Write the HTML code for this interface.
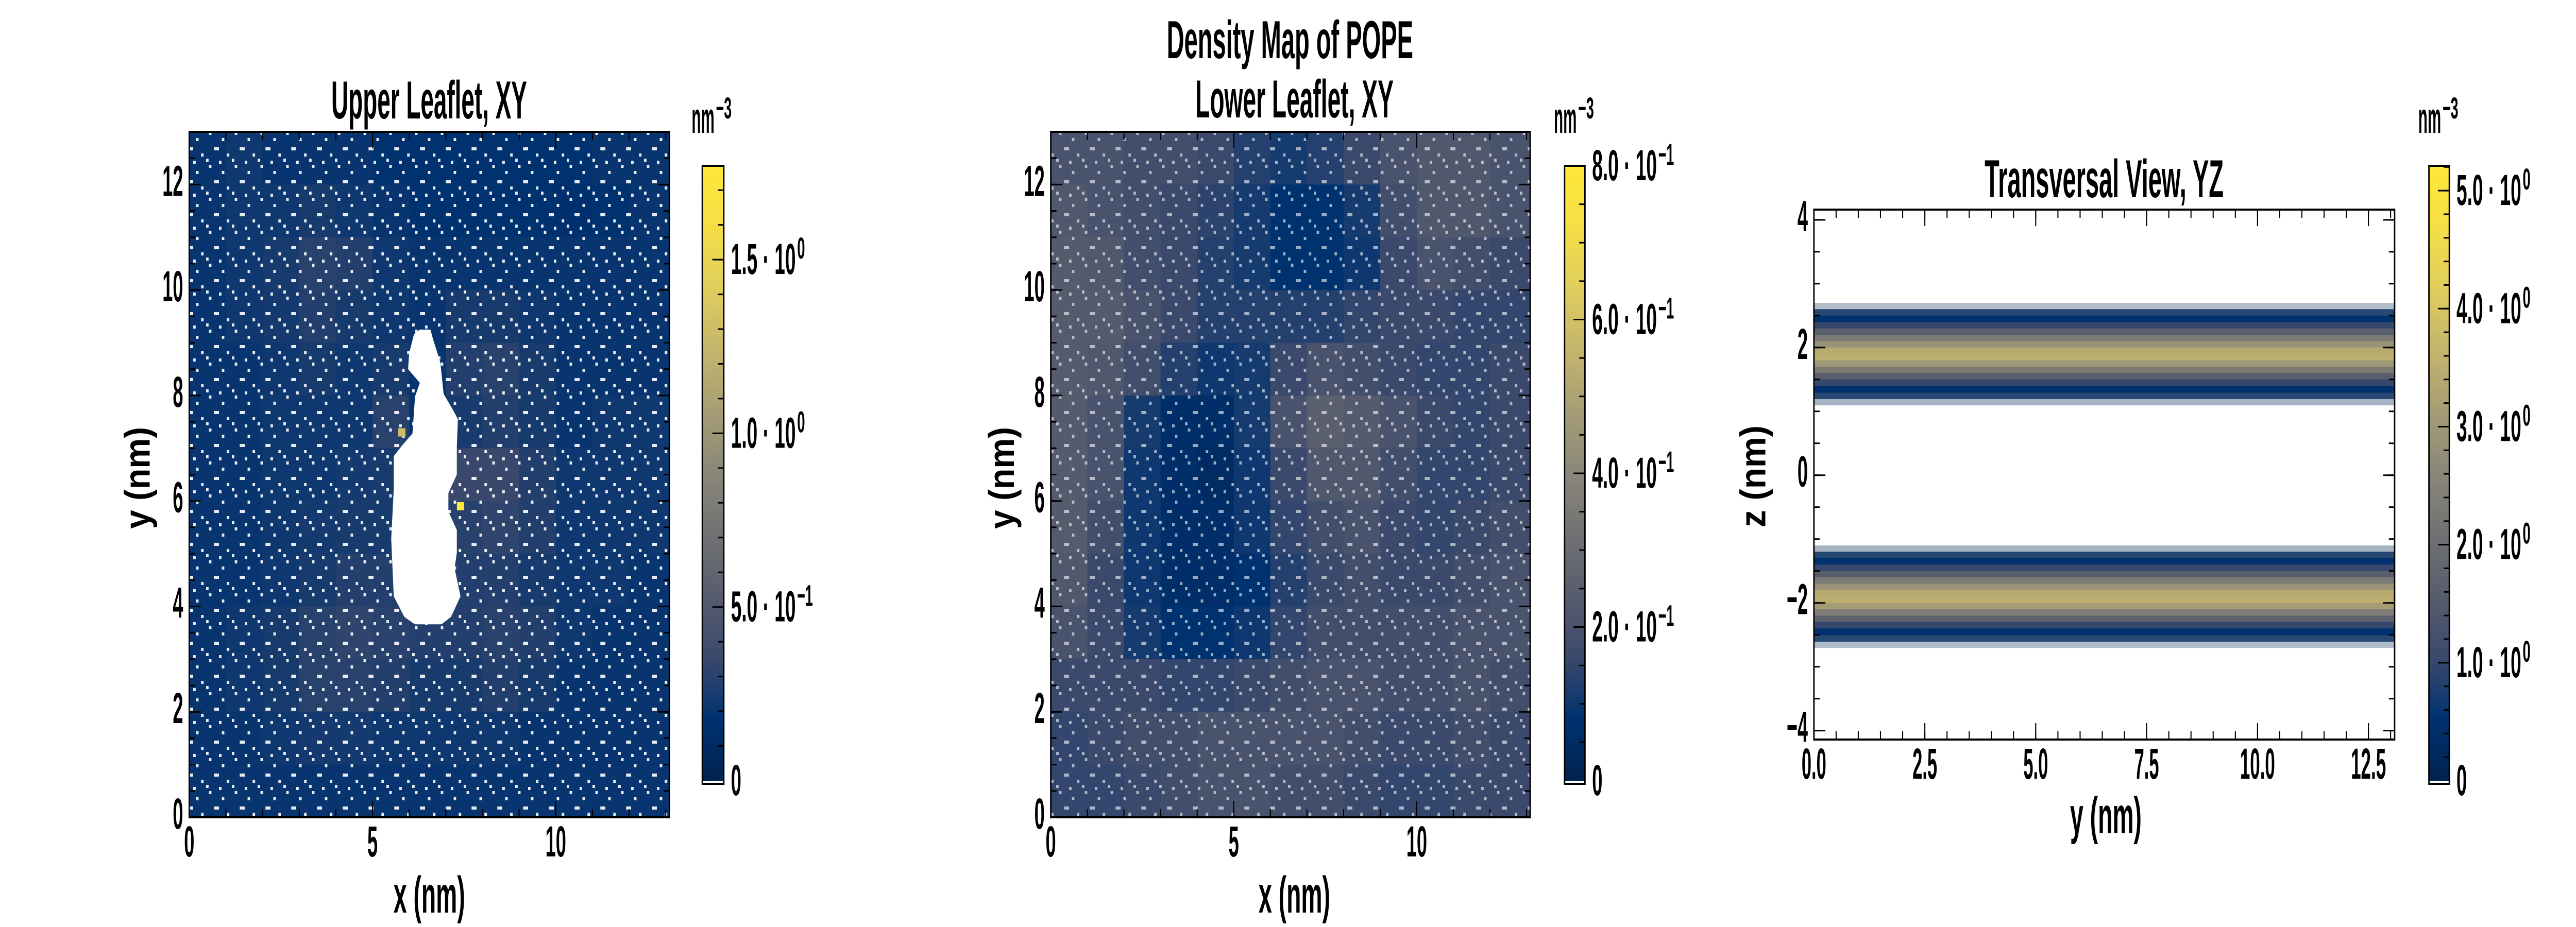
<!DOCTYPE html>
<html><head><meta charset="utf-8"><title>Density Map of POPE</title>
<style>
html,body{margin:0;padding:0;background:#fff;width:100%;height:100%;overflow:hidden;}
svg{display:block;width:100vw;height:100vh;}
text{font-family:"Liberation Sans Narrow","Liberation Sans",sans-serif;font-weight:bold;fill:#000;}
</style></head>
<body>
<svg id="fig" xmlns="http://www.w3.org/2000/svg" viewBox="0 0 7200 1800" preserveAspectRatio="none">
<defs>
<clipPath id="clip1"><rect x="529" y="256" width="1342" height="1331"/></clipPath>
<clipPath id="clip2"><rect x="2937" y="256" width="1340" height="1331"/></clipPath>
<clipPath id="clip3"><rect x="5070" y="407" width="1623" height="1029"/></clipPath>
<pattern id="speckle" x="0" y="0" width="72" height="64" patternUnits="userSpaceOnUse">
<rect x="8" y="0" width="7" height="6" fill="#fff"/>
<rect x="44" y="12" width="7" height="6" fill="#fff"/>
<rect x="22" y="30" width="14" height="6" fill="#fff"/>
<rect x="58" y="42" width="7" height="6" fill="#fff"/>
<rect x="0" y="52" width="7" height="6" fill="#fff"/>
<rect x="36" y="56" width="7" height="6" fill="#fff"/>
</pattern>
</defs>
</svg>
<script>
// ---------- data ----------
const upperGrid = [
[.2,.22,.2,.2,.2,.18,.18,.18,.18,.18,.18,.2,.2],
[.2,.22,.22,.25,.22,.2,.18,.18,.18,.18,.16,.18,.2],
[.2,.22,.25,.3,.28,.22,.2,.2,.2,.2,.2,.2,.2],
[.2,.22,.24,.28,.25,.22,.2,.25,.25,.22,.2,.2,.2],
[.2,.2,.22,.25,.22,.25,.2,.28,.3,.25,.2,.2,.2],
[.2,.2,.22,.22,.22,.3,.2,.25,.28,.25,.2,.22,.22],
[.2,.2,.22,.22,.24,.25,.2,.35,.35,.28,.22,.22,.22],
[.2,.2,.22,.24,.25,.25,.2,.3,.32,.28,.22,.22,.22],
[.2,.2,.22,.25,.28,.28,.25,.28,.28,.25,.22,.22,.2],
[.2,.22,.25,.3,.32,.3,.28,.28,.3,.28,.22,.2,.2],
[.2,.22,.25,.3,.3,.28,.25,.25,.28,.25,.2,.2,.2],
[.2,.2,.22,.24,.24,.22,.22,.22,.22,.2,.2,.2,.2],
[.2,.2,.2,.2,.2,.2,.2,.2,.2,.2,.2,.2,.2]];
const upperHoleX = [6.29,6.58,6.65,6.85,6.94,7.2,7.33,7.3,7.3,7.07,7.07,7.3,7.3,7.24,7.4,7.14,6.88,6.16,5.87,5.58,5.51,5.58,5.58,5.77,6.09,6.13,6.16,6.29,5.97,6.0,6.13];
const upperHoleY = [9.25,9.25,9.07,8.63,8.03,7.72,7.55,7.02,6.5,6.15,5.8,5.45,5.02,4.72,4.19,3.8,3.66,3.66,3.8,4.19,5.28,6.24,6.85,7.02,7.28,7.68,7.98,8.24,8.5,8.8,9.16];
const upperSpotX = [5.8,7.4];
const upperSpotY = [7.3,5.9];
const upperSpotV = [1.3,1.77];

const lowerGrid = [
[.2,.2,.18,.18,.16,.13,.11,.13,.16,.2,.22,.22,.2],
[.22,.2,.18,.16,.14,.11,.08,.08,.11,.18,.22,.22,.2],
[.23,.22,.18,.16,.13,.11,.08,.08,.1,.16,.2,.18,.16],
[.23,.23,.2,.16,.13,.13,.13,.13,.15,.16,.16,.15,.15],
[.23,.22,.18,.13,.1,.11,.16,.2,.18,.16,.15,.15,.16],
[.23,.2,.11,.06,.06,.11,.2,.25,.23,.2,.16,.15,.16],
[.23,.2,.1,.06,.05,.1,.16,.22,.22,.18,.15,.15,.16],
[.23,.18,.1,.06,.06,.1,.15,.18,.2,.16,.15,.16,.18],
[.22,.16,.1,.06,.06,.08,.13,.16,.18,.16,.16,.18,.2],
[.2,.16,.11,.08,.08,.1,.15,.18,.18,.18,.18,.2,.2],
[.16,.16,.16,.15,.15,.16,.18,.2,.2,.18,.18,.2,.18],
[.15,.16,.18,.18,.2,.2,.2,.2,.18,.16,.16,.18,.16],
[.15,.15,.16,.18,.2,.2,.18,.18,.16,.15,.15,.16,.16]];

const zCenters = [2.65,2.55,2.45,2.35,2.25,2.15,2.05,1.95,1.85,1.75,1.65,1.55,1.45,1.35,1.25,1.15,
                  -1.15,-1.25,-1.35,-1.45,-1.55,-1.65,-1.75,-1.85,-1.95,-2.05,-2.15,-2.25,-2.35,-2.45,-2.55,-2.65];
const zDensity = [0.05,0.2,0.5,1.0,1.6,2.3,2.9,3.4,3.5,3.0,2.3,1.6,1.0,0.5,0.2,0.05,
                  0.05,0.2,0.5,1.0,1.6,2.3,2.9,3.4,3.5,3.1,2.4,1.7,1.0,0.5,0.2,0.05];
const zCoverage = [0.3,0.85,1,1,1,1,1,1,1,1,1,1,1,1,0.85,0.35,
                   0.35,0.85,1,1,1,1,1,1,1,1,1,1,1,1,0.85,0.3];

const xTicks12 = [0,5,10];
const yTicks12 = [0,2,4,6,8,10,12];
const yTicks3 = [0,2.5,5,7.5,10,12.5];
const yTickLabels3 = ["0.0","2.5","5.0","7.5","10.0","12.5"];
const zTicks3 = [-4,-2,0,2,4];
const zTickLabels3 = ["−4","−2","0","2","4"];
const cb1Ticks = [0,0.5,1.0,1.5];
const cb1Labels = [["0",""],["5.0 · 10","−1"],["1.0 · 10","0"],["1.5 · 10","0"]];
const cb2Ticks = [0,0.2,0.4,0.6,0.8];
const cb2Labels = [["0",""],["2.0 · 10","−1"],["4.0 · 10","−1"],["6.0 · 10","−1"],["8.0 · 10","−1"]];
const cb3Ticks = [0,1,2,3,4,5];
const cb3Labels = [["0",""],["1.0 · 10","0"],["2.0 · 10","0"],["3.0 · 10","0"],["4.0 · 10","0"],["5.0 · 10","0"]];

// ---------- helpers ----------
const NS="http://www.w3.org/2000/svg";
const svg=document.getElementById('fig');
function el(tag,attrs,parent){const e=document.createElementNS(NS,tag);for(const k in attrs)e.setAttribute(k,attrs[k]);(parent||svg).appendChild(e);return e;}
const stops=[[0,[0,34,78]],[0.1,[0,50,112]],[0.2,[58,73,108]],[0.3,[87,93,109]],[0.4,[112,113,115]],[0.5,[138,135,121]],[0.6,[166,157,117]],[0.7,[196,181,108]],[0.8,[224,205,92]],[0.9,[244,222,70]],[1,[254,232,56]]];
function cividis(t){t=Math.max(0,Math.min(1,t));for(let i=1;i<stops.length;i++){if(t<=stops[i][0]){const a=stops[i-1],b=stops[i];const f=(t-a[0])/(b[0]-a[0]);const c=a[1].map((v,j)=>Math.round(v+(b[1][j]-v)*f));return `rgb(${c[0]},${c[1]},${c[2]})`;}}return 'rgb(254,232,56)';}
function tw(s){let w=0;for(const ch of s){if(ch==='.')w+=11;else if(ch===' ')w+=12;else if(ch==='·')w+=30;else if(ch==='−')w+=30;else w+=29;}return w;}
function txt(str,x,y,size,len,anchor,name,parent){
  const t=el('text',{x:x,y:y,'font-size':size,'text-anchor':anchor||'start',textLength:len,lengthAdjust:'spacingAndGlyphs'},parent);
  t.textContent=str;
  
  
  return t;
}
function line(x1,y1,x2,y2,w,parent){return el('line',{x1:x1,y1:y1,x2:x2,y2:y2,stroke:'#000','stroke-width':w},parent);}

function axesFrame(g,L,T,R,B,xs,ys,xMaj,xMin,yMaj,yMin){
  for(const v of xMin){const x=xs(v);line(x,B,x,B-16,3,g);line(x,T,x,T+16,3,g);}
  for(const v of xMaj){const x=xs(v);line(x,B,x,B-32,3,g);line(x,T,x,T+32,3,g);}
  for(const v of yMin){const y=ys(v);line(L,y,L+16,y,3,g);line(R,y,R-16,y,3,g);}
  for(const v of yMaj){const y=ys(v);line(L,y,L+32,y,3,g);line(R,y,R-32,y,3,g);}
  const r=el('rect',{x:L,y:T,width:R-L,height:B-T,fill:'none',stroke:'#000','stroke-width':4},g);
  
  
}
function range(a,b,s){const o=[];for(let v=a;v<=b+1e-9;v+=s)o.push(+v.toFixed(4));return o;}

function colorbar(id,L,R,T,B,vmax,ticks,labels,minStep){
  const g=el('g',{});
  
  
  const gid='grad'+id;
  const lg=el('linearGradient',{id:gid,x1:0,y1:1,x2:0,y2:0},svg.querySelector('defs'));
  for(let i=0;i<=20;i++)el('stop',{offset:i/20,'stop-color':cividis(i/20)},lg);
  const cs=v=>B-6-(B-6-T)*v/vmax;
  el('rect',{x:L,y:T,width:R-L,height:B-T,fill:'#fff'},g);
  const bar=el('rect',{x:L,y:T,width:R-L,height:B-6-T,fill:`url(#${gid})`},g);
  
  
  for(let v=minStep;v<vmax;v+=minStep){const y=cs(v);line(R-16,y,R,y,3,g);}
  ticks.forEach((v,i)=>{const y=cs(v);if(v>0)line(R-32,y,R,y,3,g);
    const lab=labels[i];
    txt(lab[0],R+20,y+28,84,tw(lab[0]),'start','colorbar-tick-label',g);
    if(lab[1]){txt(lab[1],R+20+tw(lab[0])+4,y-2,58,lab[1].length*22,'start','colorbar-tick-exponent',g);}
  });
  el('rect',{x:L,y:T,width:R-L,height:B-T,fill:'none',stroke:'#000','stroke-width':4},g);
  txt('nm',L-30,258,84,64,'start','colorbar-unit',g);
  txt('−3',L+38,230,58,44,'start','colorbar-unit-exponent',g);
}

function drawGrid(grid,hb,xs,ys,xmax,ymax,vmax){
  const n=grid.length;
  grid.forEach((row,ri)=>row.forEach((v,ci)=>{
    const y0=n-1-ri, x1=ci===row.length-1?xmax+0.2:ci+1, y1=ri===0?ymax+0.2:y0+1;
    const c=el('rect',{x:xs(ci),y:ys(y1),width:xs(x1)-xs(ci)+1,height:ys(y0)-ys(y1)+1,fill:cividis(v/vmax)},hb);
    
    
  }));
}

// ---------- panel 1 ----------
(function(){
  const L=529,R=1871,T=256,B=1587,xmax=13.1,ymax=13.0,vmax=1.77;
  const xs=v=>L+(R-L)*v/xmax, ys=v=>B-(B-T)*v/ymax;
  const g=el('g',{});
  
  
  const hm=el('g',{'clip-path':'url(#clip1)'},g);
  drawGrid(upperGrid,hm,xs,ys,xmax,ymax,vmax);
  el('rect',{x:L,y:T,width:R-L,height:B-T,fill:'url(#speckle)','fill-opacity':0.9},hm);
  const pts=upperHoleX.map((x,i)=>xs(x)+','+ys(upperHoleY[i])).join(' ');
  const hole=el('polygon',{points:pts,fill:'#fff'},hm);
  
  
  upperSpotX.forEach((x,i)=>{const s=el('rect',{x:xs(x)-10,y:ys(upperSpotY[i])-8,width:20,height:16,fill:cividis(upperSpotV[i]/vmax)},hm);
    
    });
  axesFrame(g,L,T,R,B,xs,ys,xTicks12,range(0,13,1),yTicks12,range(0,13,0.5));
  xTicks12.forEach(v=>txt(String(v),xs(v),1663,84,tw(String(v)),'middle','x-tick-label',g));
  yTicks12.forEach(v=>txt(String(v),512,ys(v)+22,84,tw(String(v)),'end','y-tick-label',g));
  txt('Upper Leaflet, XY',(926+1473)/2,230,104,547,'middle','panel-title',g);
  txt('x (nm)',1200,1772,100,200,'middle','x-axis-title',g);
  const yl=txt('y (nm)',0,0,100,198,'middle','y-axis-title',g);yl.setAttribute('transform','translate(418,928) rotate(-90)');
  colorbar(1,1963,2023,322,1522,vmax,cb1Ticks,cb1Labels,0.1);
})();

// ---------- panel 2 ----------
(function(){
  const L=2937,R=4277,T=256,B=1587,xmax=13.1,ymax=13.0,vmax=0.8;
  const xs=v=>L+(R-L)*v/xmax, ys=v=>B-(B-T)*v/ymax;
  const g=el('g',{});
  
  
  const hm=el('g',{'clip-path':'url(#clip2)'},g);
  drawGrid(lowerGrid,hm,xs,ys,xmax,ymax,vmax);
  el('rect',{x:L,y:T,width:R-L,height:B-T,fill:'url(#speckle)','fill-opacity':0.6},hm);
  axesFrame(g,L,T,R,B,xs,ys,xTicks12,range(0,13,1),yTicks12,range(0,13,0.5));
  xTicks12.forEach(v=>txt(String(v),xs(v),1663,84,tw(String(v)),'middle','x-tick-label',g));
  yTicks12.forEach(v=>txt(String(v),2920,ys(v)+22,84,tw(String(v)),'end','y-tick-label',g));
  txt('Density Map of POPE',(3261+3950)/2,113,104,689,'middle','figure-title',g);
  txt('Lower Leaflet, XY',(3341+3895)/2,228,104,554,'middle','panel-title',g);
  txt('x (nm)',3618,1772,100,200,'middle','x-axis-title',g);
  const yl=txt('y (nm)',0,0,100,198,'middle','y-axis-title',g);yl.setAttribute('transform','translate(2834,928) rotate(-90)');
  colorbar(2,4373,4430,322,1522,vmax,cb2Ticks,cb2Labels,0.05);
})();

// ---------- panel 3 ----------
(function(){
  const L=5070,R=6693,T=407,B=1436,xmax=13.09,zmin=-4.14,zmax=4.16,vmax=5.21,dz=0.1;
  const xs=v=>L+(R-L)*v/xmax, zs=v=>B-(B-T)*(v-zmin)/(zmax-zmin);
  const g=el('g',{});
  
  
  const hm=el('g',{'clip-path':'url(#clip3)'},g);
  zCenters.forEach((z,i)=>{
    const r=el('rect',{x:L,y:zs(z+dz/2),width:R-L,height:zs(z-dz/2)-zs(z+dz/2)+0.8,fill:cividis(zDensity[i]/vmax),'fill-opacity':zCoverage[i]},hm);
    
    
  });
  axesFrame(g,L,T,R,B,xs,zs,yTicks3,range(0,13,0.5),zTicks3,range(-4,4,0.5));
  yTicks3.forEach((v,i)=>txt(yTickLabels3[i],xs(v),1512,84,tw(yTickLabels3[i]),'middle','x-tick-label',g));
  zTicks3.forEach((v,i)=>txt(zTickLabels3[i],5053,zs(v)+22,84,tw(zTickLabels3[i]),'end','y-tick-label',g));
  txt('Transversal View, YZ',(5547+6215)/2,383,104,668,'middle','panel-title',g);
  txt('y (nm)',5886,1618,100,200,'middle','x-axis-title',g);
  const yl=txt('z (nm)',0,0,100,198,'middle','y-axis-title',g);yl.setAttribute('transform','translate(4934,925) rotate(-90)');
  colorbar(3,6789,6846,322,1522,vmax,cb3Ticks,cb3Labels,0.2);
})();
</script>
</body></html>
